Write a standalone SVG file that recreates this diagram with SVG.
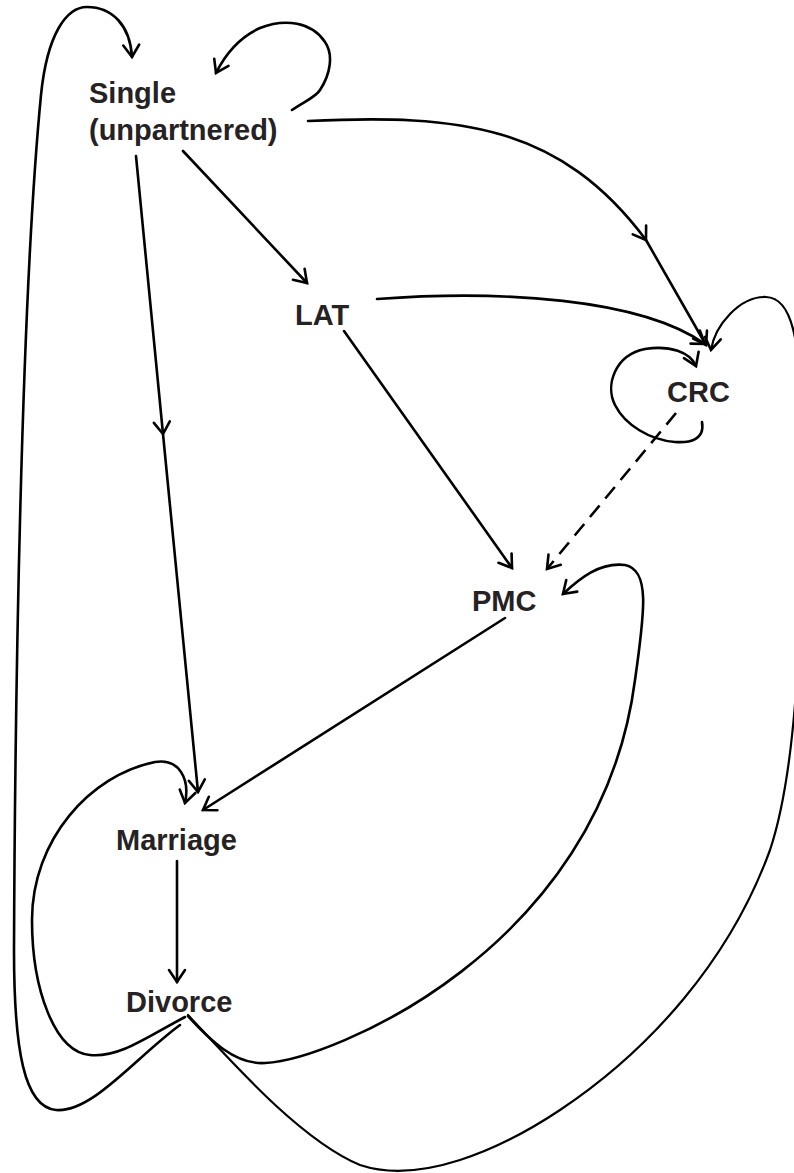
<svg xmlns="http://www.w3.org/2000/svg" width="794" height="1173" viewBox="0 0 794 1173">
<style>
.lbl{font-family:"Liberation Sans",Arial,sans-serif;font-weight:bold;font-size:29px;fill:#262223}
.e{fill:none;stroke:#000;stroke-width:2.6;stroke-linecap:round;stroke-linejoin:round;marker-end:url(#ah)}
.m{marker-mid:url(#ah)}
.t{stroke-width:2.2}
.d{stroke-dasharray:15 9;stroke-linecap:butt}
</style>
<defs>
<marker id="ah" markerUnits="userSpaceOnUse" markerWidth="30" markerHeight="30" refX="0" refY="0" orient="auto" overflow="visible">
<path d="M-12,-8 L0,0 L-12,8" fill="none" stroke="#000" stroke-width="2.6" stroke-linecap="round" stroke-linejoin="miter"/>
</marker>
</defs>
<rect width="794" height="1173" fill="#fff"/>
<g id="connectors">
<path class="e" d="M180,1025 C135,1058 92,1113 56,1110 C24,1107 14,1050 14,950 C15,700 21,300 41,95 C47,35 66,7 87,7 C112,7 130,25 132,57"/>
<path class="e" d="M292,110 C305,101 316,97 320,90 C330,75 334,55 325,42 C312,22 285,18 260,28 C240,37 225,55 216,73"/>
<path class="e m" d="M308,121 C460,114 560,125 646,240 L706,345"/>
<path class="e" d="M183,151 L307,283"/>
<path class="e m" d="M136,156 L163,434 L198,792"/>
<path class="e" d="M377,299 C500,290 640,298 705,344"/>
<path class="e" d="M344,331 L512,568"/>
<path class="e d" d="M676,413 L547,569"/>
<path class="e" d="M702,422 C705,440 690,443 675,442 C650,440 625,425 615,405 C605,385 615,355 645,349 C670,345 690,352 696,366"/>
<path class="e t" d="M188,1015 C230,1060 300,1140 360,1165 C420,1185 500,1150 560,1110 C650,1050 730,960 770,850 C800,760 802,600 802,450 C802,330 790,298 766,297 C740,296 715,325 711,350"/>
<path class="e" d="M188,1016 C210,1040 235,1065 265,1063 C330,1060 600,950 635,680 C645,610 650,570 625,565 C600,562 580,578 563,594"/>
<path class="e" d="M185,1017 C150,1035 120,1058 90,1055 C55,1052 32,990 32,920 C32,840 90,775 155,762 C180,758 190,780 185,803"/>
<path class="e" d="M505,618 L203,810"/>
<path class="e" d="M177,861 L177,982"/>
</g>
<g id="single"><text class="lbl" x="89" y="103">Single</text><text class="lbl" x="89" y="140">(unpartnered)</text></g>
<g id="lat"><text class="lbl" x="295" y="325">LAT</text></g>
<g id="crc"><text class="lbl" x="667" y="402">CRC</text></g>
<g id="pmc"><text class="lbl" x="472" y="611">PMC</text></g>
<g id="marriage"><text class="lbl" x="116" y="850">Marriage</text></g>
<g id="divorce"><text class="lbl" x="126" y="1012">Divorce</text></g>
</svg>
